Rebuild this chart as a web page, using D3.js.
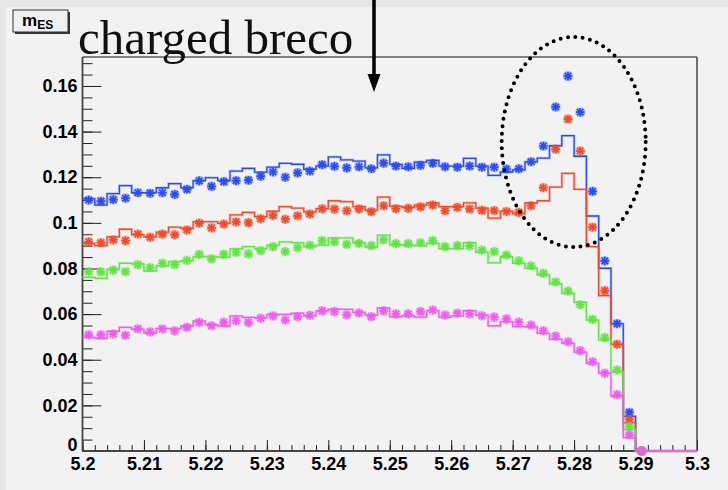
<!DOCTYPE html>
<html>
<head>
<meta charset="utf-8">
<script src="https://cdn.jsdelivr.net/npm/d3@7"></script>
<style>
  body { margin: 0; background: #f2f2f2; }
  svg { display: block; }
</style>
</head>
<body>
<div id="root"></div>
<script>
// DIMENSIONS
let width = 728,
  height = 490;
let plot = { left: 82.5, right: 697, top: 57, bottom: 451 };

// DATA (bin contents, 0.002 wide bins from 5.2)
let binStart = 5.2, binWidth = 0.002;
let seriesNames = ['blue', 'red', 'green', 'magenta'];
let seriesColors = ['#2a4df2', '#f24a2a', '#62e446', '#ee5cee'];

let blueHist = [0.1106,0.1078,0.1128,0.1163,0.1132,0.1132,0.1154,0.1172,0.1154,0.1185,0.1198,0.1185,0.1227,0.1239,0.1222,0.1244,0.1261,0.1257,0.1235,0.1249,0.1289,0.1276,0.1271,0.1241,0.1298,0.1256,0.1239,0.1266,0.1274,0.1249,0.1249,0.1283,0.1249,0.1208,0.1223,0.1232,0.1267,0.1284,0.1338,0.1382,0.1292,0.1030,0.0801,0.0558,0.0152,0];
let blueStar = [0.1100,0.1095,0.1102,0.1108,0.1132,0.1130,0.1132,0.1125,0.1147,0.1184,0.1160,0.1181,0.1185,0.1187,0.1205,0.1223,0.1200,0.1219,0.1227,0.1255,0.1248,0.1241,0.1246,0.1237,0.1262,0.1249,0.1246,0.1252,0.1261,0.1246,0.1244,0.1249,0.1244,0.1244,0.1236,0.1237,0.1268,0.1337,0.1508,0.1643,0.1485,0.1138,0.0833,0.0558,0.0169,0];
let redHist = [0.0910,0.0900,0.0939,0.0972,0.0948,0.0939,0.0959,0.0981,0.0976,0.1005,0.1005,0.0998,0.1035,0.1046,0.1027,0.1051,0.1071,0.1065,0.1048,0.1062,0.1097,0.1093,0.1071,0.1056,0.1113,0.1073,0.1068,0.1078,0.1087,0.1071,0.1071,0.1088,0.1065,0.1021,0.1051,0.1039,0.1087,0.1097,0.1157,0.1217,0.1147,0.0896,0.0681,0.0468,0.0123,0];
let redStar = [0.0917,0.0913,0.0925,0.0922,0.0951,0.0937,0.0951,0.0948,0.0969,0.0999,0.0978,0.0995,0.1004,0.1001,0.1018,0.1033,0.1016,0.1031,0.1039,0.1062,0.1060,0.1053,0.1061,0.1049,0.1075,0.1062,0.1064,0.1070,0.1078,0.1053,0.1068,0.1061,0.1055,0.1054,0.1050,0.1046,0.1075,0.1154,0.1323,0.1455,0.1315,0.0981,0.0703,0.0468,0.0139,0];
let greenHist = [0.0761,0.0757,0.0797,0.0823,0.0820,0.0789,0.0812,0.0830,0.0833,0.0852,0.0852,0.0849,0.0886,0.0896,0.0887,0.0902,0.0917,0.0913,0.0896,0.0902,0.0934,0.0934,0.0913,0.0894,0.0946,0.0904,0.0902,0.0900,0.0910,0.0887,0.0887,0.0913,0.0872,0.0825,0.0852,0.0823,0.0801,0.0772,0.0733,0.0691,0.0652,0.0574,0.0487,0.0348,0.0095,0];
let greenStar = [0.0786,0.0785,0.0793,0.0786,0.0817,0.0804,0.0823,0.0817,0.0836,0.0862,0.0842,0.0862,0.0871,0.0864,0.0878,0.0896,0.0874,0.0891,0.0902,0.0922,0.0917,0.0906,0.0910,0.0900,0.0925,0.0909,0.0909,0.0913,0.0922,0.0896,0.0900,0.0899,0.0881,0.0874,0.0859,0.0834,0.0812,0.0779,0.0741,0.0701,0.0641,0.0577,0.0497,0.0355,0.0107,0];
let magentaHist = [0.0498,0.0494,0.0525,0.0542,0.0533,0.0517,0.0537,0.0536,0.0548,0.0570,0.0554,0.0548,0.0592,0.0586,0.0584,0.0599,0.0599,0.0604,0.0592,0.0614,0.0621,0.0621,0.0608,0.0596,0.0627,0.0588,0.0593,0.0587,0.0615,0.0586,0.0592,0.0615,0.0595,0.0549,0.0567,0.0545,0.0544,0.0516,0.0490,0.0472,0.0433,0.0384,0.0341,0.0241,0.0059,0];
let magentaStar = [0.0509,0.0509,0.0513,0.0507,0.0535,0.0522,0.0535,0.0527,0.0542,0.0564,0.0549,0.0564,0.0571,0.0564,0.0582,0.0592,0.0574,0.0589,0.0595,0.0614,0.0611,0.0597,0.0605,0.0589,0.0614,0.0601,0.0601,0.0611,0.0618,0.0596,0.0604,0.0601,0.0593,0.0587,0.0579,0.0565,0.0552,0.0527,0.0504,0.0479,0.0440,0.0391,0.0341,0.0247,0.0071,0];

// TICKS
let xTicks = [5.2, 5.21, 5.22, 5.23, 5.24, 5.25, 5.26, 5.27, 5.28, 5.29, 5.3];
let yTicks = [0, 0.02, 0.04, 0.06, 0.08, 0.1, 0.12, 0.14, 0.16];
let titleText = 'charged breco';

let hists = [blueHist, redHist, greenHist, magentaHist];
let stars = [blueStar, redStar, greenStar, magentaStar];

let svg = d3.select('#root').append('svg')
  .attr('width', width)
  .attr('height', height);

// canvas background with darker outer edge
svg.append('rect').attr('width', width).attr('height', height).attr('fill', '#e6e6e6');
svg.append('rect').attr('x', 6).attr('y', 7).attr('width', width - 6).attr('height', height - 7).attr('fill', '#f2f2f2');

// scales
let xScale = d3.scaleLinear().domain([5.2, 5.3]).range([plot.left, plot.right]);
let yScale = d3.scaleLinear().domain([0, 0.1727]).range([plot.bottom, plot.top]);

// minor ticks
let xMinor = d3.range(0, 51).map(i => 5.2 + i * 0.002);
let yMinor = d3.range(0, 35).map(i => i * 0.005);

svg.append('g')
  .attr('transform', `translate(0, ${plot.bottom})`)
  .call(d3.axisBottom(xScale).tickValues(xMinor).tickSize(-6).tickFormat(''))
  .call(g => g.select('.domain').remove())
  .selectAll('line').attr('stroke', '#222');

svg.append('g')
  .attr('transform', `translate(${plot.left}, 0)`)
  .call(d3.axisLeft(yScale).tickValues(yMinor).tickSize(-10).tickFormat(''))
  .call(g => g.select('.domain').remove())
  .selectAll('line').attr('stroke', '#222');

// major ticks + labels
let xAxis = svg.append('g')
  .attr('transform', `translate(0, ${plot.bottom})`)
  .call(d3.axisBottom(xScale).tickValues(xTicks).tickSize(-11).tickPadding(6)
    .tickFormat(d => d3.format('.2~f')(d)));
xAxis.select('.domain').remove();
xAxis.selectAll('line').attr('stroke', '#222');
xAxis.selectAll('text')
  .style('font-family', '"Liberation Sans", Arial, sans-serif')
  .style('font-weight', 'bold')
  .style('font-size', '18px')
  .attr('fill', '#000');

let yAxis = svg.append('g')
  .attr('transform', `translate(${plot.left}, 0)`)
  .call(d3.axisLeft(yScale).tickValues(yTicks).tickSize(-19).tickPadding(5)
    .tickFormat(d => d3.format('~g')(d)));
yAxis.select('.domain').remove();
yAxis.selectAll('line').attr('stroke', '#222');
yAxis.selectAll('text')
  .style('font-family', '"Liberation Sans", Arial, sans-serif')
  .style('font-weight', 'bold')
  .style('font-size', '18px')
  .attr('fill', '#000');
// the "0" label sits just above the x labels, as in ROOT
yAxis.selectAll('.tick').filter(d => d === 0).select('text').attr('dy', '-0.05em');

// frame
svg.append('line').attr('x1', plot.left).attr('x2', plot.right).attr('y1', plot.top).attr('y2', plot.top)
  .attr('stroke', '#111').attr('stroke-width', 1);
svg.append('line').attr('x1', plot.right).attr('x2', plot.right).attr('y1', plot.top).attr('y2', plot.bottom)
  .attr('stroke', '#444').attr('stroke-width', 1.5);
svg.append('line').attr('x1', plot.left).attr('x2', plot.left).attr('y1', plot.top).attr('y2', plot.bottom)
  .attr('stroke', '#444').attr('stroke-width', 1.8);
svg.append('line').attr('x1', plot.left).attr('x2', plot.right).attr('y1', plot.bottom).attr('y2', plot.bottom)
  .attr('stroke', '#444').attr('stroke-width', 1.8);

// histogram step lines
let stepLine = d3.line()
  .x(d => xScale(d.x))
  .y(d => yScale(d.v))
  .curve(d3.curveStepAfter);

let starPath = r => `M${-r},0L${r},0M0,${-r}L0,${r}M${-r * 0.75},${-r * 0.75}L${r * 0.75},${r * 0.75}M${-r * 0.75},${r * 0.75}L${r * 0.75},${-r * 0.75}`;

seriesNames.forEach((name, k) => {
  let pts = hists[k].map((v, i) => ({ x: binStart + i * binWidth, v: v }));
  pts.push({ x: 5.3, v: 0 });
  let g = svg.append('g').attr('class', 'series-' + name);

  g.append('path')
    .attr('d', stepLine(pts))
    .attr('fill', 'none')
    .attr('stroke', seriesColors[k])
    .attr('stroke-opacity', 0.3)
    .attr('stroke-width', 2.6);
  g.append('path')
    .attr('d', stepLine(pts))
    .attr('fill', 'none')
    .attr('stroke', seriesColors[k])
    .attr('stroke-width', 1.3);

  let marks = g.selectAll('.star')
    .data(stars[k])
    .enter()
    .append('g')
    .attr('class', 'star')
    .attr('transform', (d, i) => `translate(${xScale(binStart + (i + 0.5) * binWidth)}, ${yScale(d)})`);
  marks.append('path')
    .attr('d', starPath(4.8))
    .attr('stroke', seriesColors[k])
    .attr('stroke-opacity', 0.35)
    .attr('stroke-width', 3.6)
    .attr('fill', 'none');
  marks.append('path')
    .attr('d', starPath(4.3))
    .attr('stroke', seriesColors[k])
    .attr('stroke-width', 1.7)
    .attr('fill', 'none');
});

// dotted ellipse around the peak
svg.append('ellipse')
  .attr('cx', 573.7).attr('cy', 142)
  .attr('rx', 72).attr('ry', 105)
  .attr('fill', 'none')
  .attr('stroke', '#000')
  .attr('stroke-width', 4)
  .attr('stroke-linecap', 'round')
  .attr('stroke-dasharray', '0 7.4');

// title
svg.append('text')
  .attr('x', 78).attr('y', 54)
  .style('font-family', '"Liberation Serif", "Times New Roman", serif')
  .style('font-size', '49px')
  .attr('fill', '#111')
  .text(titleText);

// arrow
svg.append('line')
  .attr('x1', 374).attr('x2', 374).attr('y1', 0).attr('y2', 78)
  .attr('stroke', '#000').attr('stroke-width', 3.5);
svg.append('path')
  .attr('d', 'M367.5,74L380.5,74L374,92Z')
  .attr('fill', '#000');

// stat-box style label
svg.append('rect').attr('x', 15).attr('y', 12).attr('width', 55).attr('height', 22).attr('fill', '#333');
svg.append('rect').attr('x', 13).attr('y', 10).attr('width', 55).attr('height', 22)
  .attr('fill', '#f0f0f0').attr('stroke', '#333').attr('stroke-width', 1);
let lbl = svg.append('text')
  .attr('x', 22).attr('y', 26)
  .style('font-family', '"Liberation Sans", Arial, sans-serif')
  .style('font-weight', 'bold')
  .attr('fill', '#000');
lbl.append('tspan').style('font-size', '17px').text('m');
lbl.append('tspan').style('font-size', '12px').attr('dy', 3).text('ES');
</script>
</body>
</html>
